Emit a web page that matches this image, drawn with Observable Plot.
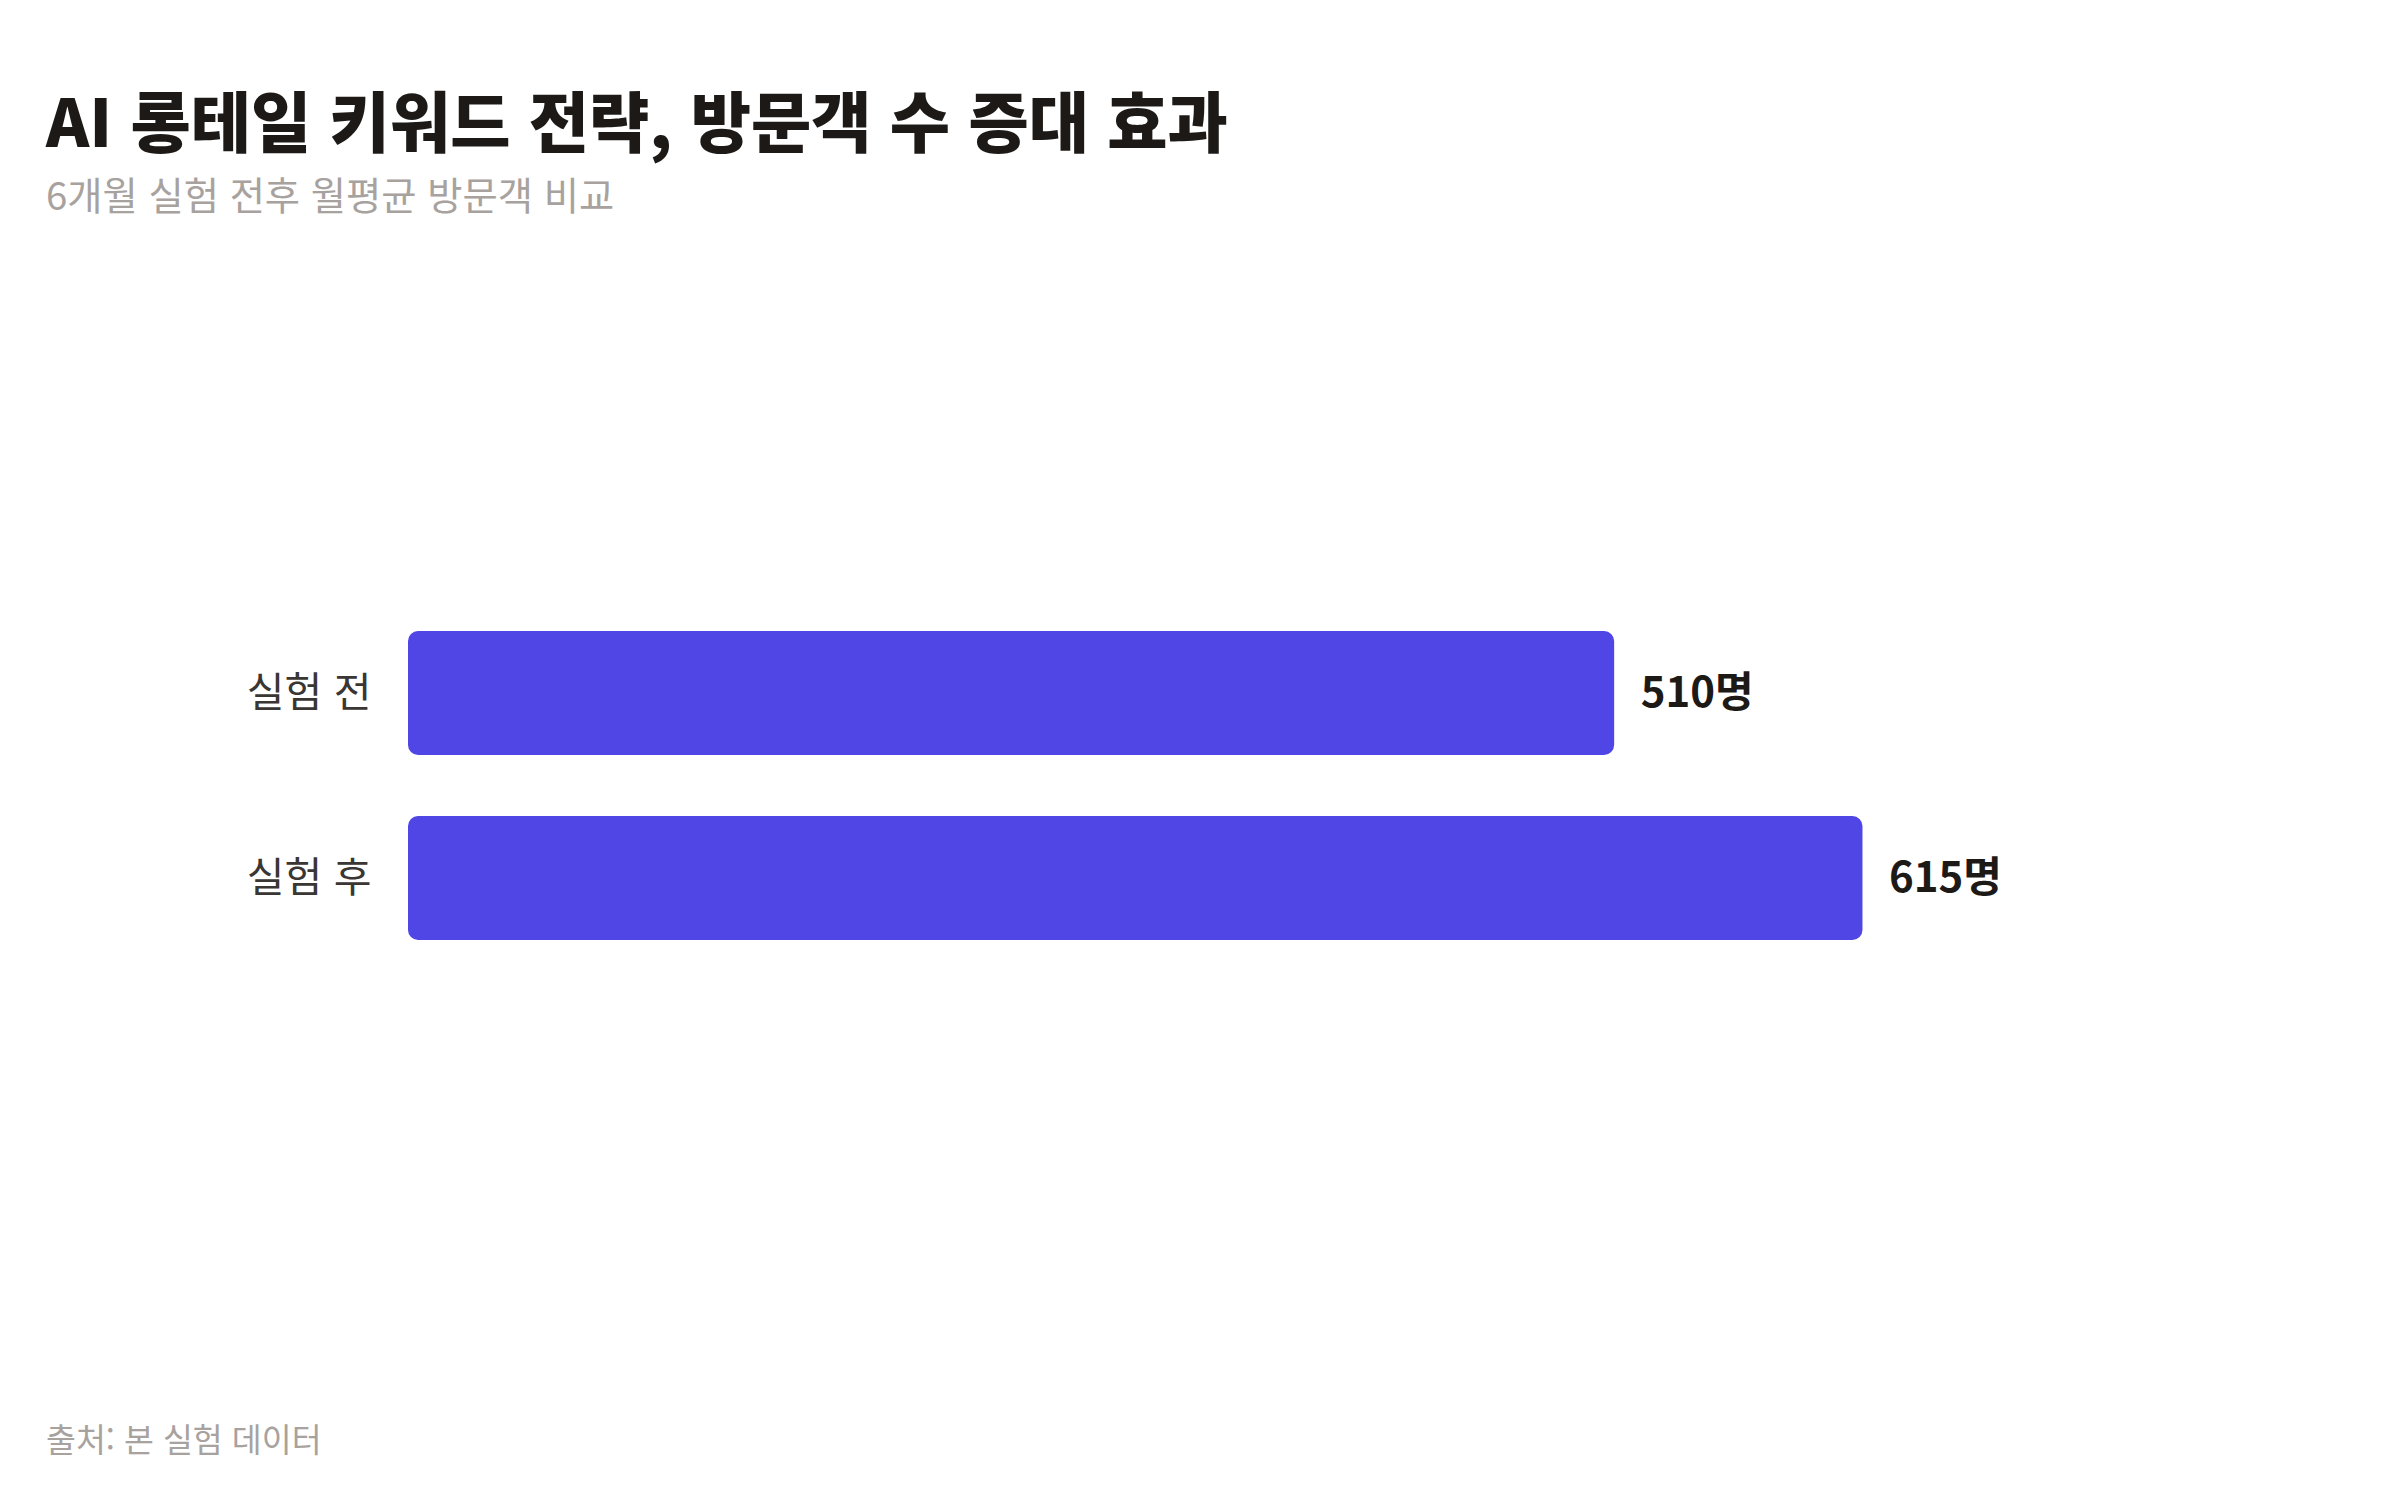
<!DOCTYPE html>
<html lang="ko">
<head>
<meta charset="utf-8">
<script src="https://cdn.jsdelivr.net/npm/d3@7"></script>
<script src="https://cdn.jsdelivr.net/npm/@observablehq/plot@0.6"></script>
<style>
  html, body { margin: 0; padding: 0; background: #ffffff; }
  body { width: 2400px; height: 1500px; position: relative; overflow: hidden;
         font-family: "Noto Sans CJK KR", "Noto Sans", sans-serif; }
  #title { position: absolute; left: 46px; top: 86px; font-size: 65.5px; font-weight: 900;
           color: #1c1917; line-height: 1; white-space: nowrap; }
  #subtitle { position: absolute; left: 46px; top: 175px; font-size: 38.3px; font-weight: 400;
              color: #a8a29e; line-height: 1; white-space: nowrap; }
  #chart { position: absolute; left: 0; top: 250px; }
  #caption { position: absolute; left: 46px; top: 1422px; font-size: 32.5px; color: #a8a29e;
             line-height: 1; white-space: nowrap; }
</style>
</head>
<body>
<div id="title"></div>
<div id="subtitle"></div>
<div id="chart"></div>
<div id="caption"></div>
<script>
const titleText = "AI 롱테일 키워드 전략, 방문객 수 증대 효과";
const subtitleText = "6개월 실험 전후 월평균 방문객 비교";
const captionText = "출처: 본 실험 데이터";
const categories = ["실험 전", "실험 후"];
const visitors = [510, 615];
const unit = "명";

document.getElementById("title").textContent = titleText;
document.getElementById("subtitle").textContent = subtitleText;
document.getElementById("caption").textContent = captionText;

const data = categories.map((c, i) => ({ label: c, value: visitors[i] }));

const chart = Plot.plot({
  width: 2400,
  height: 1100,
  marginLeft: 408,
  marginRight: 100,
  marginTop: 319,
  marginBottom: 348,
  style: { fontFamily: '"Noto Sans CJK KR", "Noto Sans", sans-serif', background: "transparent" },
  x: { domain: [0, 800], axis: null },
  y: { domain: categories, padding: 0.33, label: null },
  marks: [
    Plot.barX(data, { y: "label", x: "value", fill: "#4f46e5", rx: 10 }),
    Plot.text(data, { y: "label", x: "value", text: d => d.value + unit, dx: 26,
                      textAnchor: "start", fontSize: 42, fontWeight: 700, fill: "#1c1917" }),
    Plot.axisY({ tickSize: 0, tickPadding: 37, fontSize: 41, fill: "#3a3633", label: null })
  ]
});
document.getElementById("chart").appendChild(chart);
</script>
</body>
</html>
